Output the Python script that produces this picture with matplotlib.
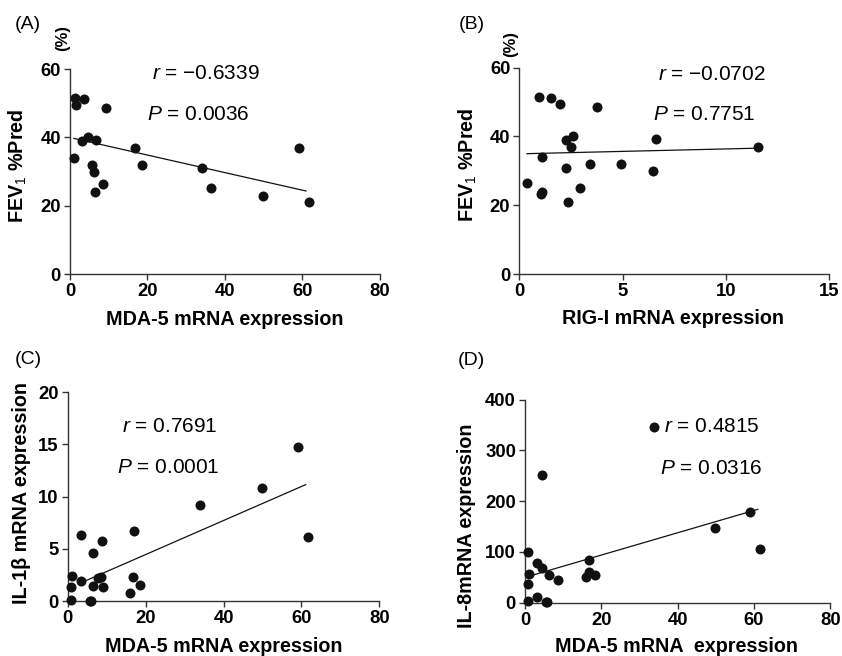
import numpy as np
import matplotlib
matplotlib.use("Agg")
import matplotlib.pyplot as plt
from matplotlib import font_manager

plt.rcParams['font.family'] = ['Liberation Sans', 'DejaVu Sans']
plt.rcParams['mathtext.fontset'] = 'custom'
names = {f.name for f in font_manager.fontManager.ttflist}
NARROW = 'Liberation Sans Narrow' in names
stat_font = 'Liberation Sans Narrow' if NARROW else 'Liberation Sans'
plt.rcParams['mathtext.rm'] = stat_font
plt.rcParams['mathtext.it'] = stat_font + ':italic'
plt.rcParams['mathtext.bf'] = 'Liberation Sans:bold'
stat_size = 17 if NARROW else 15

# ---- Panel A: MDA-5 vs FEV1 %Pred ----
a_x = [1.3, 1.5, 3.5, 9.3, 1.1, 3.2, 4.6, 6.6, 5.6, 6.1, 6.5, 8.6, 16.9, 18.6, 34.1, 36.3, 49.9, 59.0, 61.6]
a_y = [51.4, 49.5, 51.2, 48.7, 34.0, 38.9, 40.2, 39.2, 32.0, 30.0, 23.9, 26.4, 37.0, 32.0, 30.9, 25.1, 22.9, 37.0, 21.0]
a_line_x = [1.0, 60.9]
a_line_y = [39.7, 24.3]

# ---- Panel B: RIG-I vs FEV1 %Pred ----
b_x = [0.95, 1.53, 1.97, 3.76, 2.24, 2.58, 2.48, 6.63, 11.56, 1.11, 2.26, 3.44, 4.94, 6.45, 0.39, 1.11, 1.05, 2.95, 2.35]
b_y = [51.5, 51.3, 49.4, 48.7, 39.1, 40.1, 37.0, 39.3, 36.9, 33.9, 30.9, 31.9, 31.9, 30.0, 26.5, 23.9, 23.2, 25.1, 20.9]
b_line_x = [0.37, 11.56]
b_line_y = [35.0, 36.6]

# ---- Panel C: MDA-5 vs IL-1beta ----
c_x = [1.2, 0.94, 0.86, 3.3, 3.3, 5.6, 5.9, 6.5, 6.5, 7.8, 8.5, 8.7, 9.1, 16.9, 16.7, 16.1, 18.5, 34.0, 49.9, 59.0, 61.7]
c_y = [2.39, 1.34, 0.16, 6.37, 1.9, 0.06, 0.06, 4.6, 1.5, 2.23, 2.3, 5.8, 1.37, 6.72, 2.32, 0.83, 1.6, 9.24, 10.83, 14.7, 6.15]
c_line_x = [3.3, 61.1]
c_line_y = [1.75, 11.15]

# ---- Panel D: MDA-5 vs IL-8 ----
d_x = [0.87, 1.1, 0.79, 0.79, 3.2, 4.4, 4.5, 3.2, 5.6, 5.8, 6.3, 8.6, 16.7, 16.7, 15.9, 18.3, 33.8, 49.7, 58.9, 61.5]
d_y = [99.8, 57, 36.8, 2.6, 78, 68, 252, 11.8, 2, 1, 55, 45, 85, 61, 51, 54, 346, 147, 179, 106]
d_line_x = [2.3, 61.0]
d_line_y = [55, 184]

panels = [
    dict(pos=[0.0831, 0.5823, 0.3682, 0.3125], x=a_x, y=a_y, lx=a_line_x, ly=a_line_y,
         xlim=80, xt=[0, 20, 40, 60, 80], ylim=60, yt=[0, 20, 40, 60],
         xlabel='MDA-5 mRNA expression', xlab_pos=(0.5, -0.22),
         ylabel='FEV$_1$ %Pred', ylab_pos=(-0.168, 0.527), pct_pos=(-0.023, 1.151),
         r='$r$ = \u22120.6339', rpos=(0.265, 0.976), p='$P$ = 0.0036', ppos=(0.248, 0.776),
         letter='(A)', lpos=(0.033, 0.962)),
    dict(pos=[0.6168, 0.5823, 0.3682, 0.3145], x=b_x, y=b_y, lx=b_line_x, ly=b_line_y,
         xlim=15, xt=[0, 5, 10, 15], ylim=60, yt=[0, 20, 40, 60],
         xlabel='RIG-I mRNA expression', xlab_pos=(0.496, -0.218),
         ylabel='FEV$_1$ %Pred', ylab_pos=(-0.166, 0.528), pct_pos=(-0.029, 1.115),
         r='$r$ = \u22120.0702', rpos=(0.447, 0.969), p='$P$ = 0.7751', ppos=(0.431, 0.771),
         letter='(B)', lpos=(0.560, 0.962)),
    dict(pos=[0.0804, 0.0834, 0.3701, 0.3190], x=c_x, y=c_y, lx=c_line_x, ly=c_line_y,
         xlim=80, xt=[0, 20, 40, 60, 80], ylim=20, yt=[0, 5, 10, 15, 20],
         xlabel='MDA-5 mRNA expression', xlab_pos=(0.5, -0.218),
         ylabel='IL-1\u03b2 mRNA expression', ylab_pos=(-0.147, 0.517), pct_pos=None,
         r='$r$ = 0.7691', rpos=(0.173, 0.836), p='$P$ = 0.0001', ppos=(0.159, 0.640),
         letter='(C)', lpos=(0.034, 0.452)),
    dict(pos=[0.6235, 0.0812, 0.3626, 0.3095], x=d_x, y=d_y, lx=d_line_x, ly=d_line_y,
         xlim=80, xt=[0, 20, 40, 60, 80], ylim=400, yt=[0, 100, 200, 300, 400],
         xlabel='MDA-5 mRNA  expression', xlab_pos=(0.497, -0.218),
         ylabel='IL-8mRNA expression', ylab_pos=(-0.193, 0.38), pct_pos=None,
         r='$r$ = 0.4815', rpos=(0.455, 0.869), p='$P$ = 0.0316', ppos=(0.442, 0.663),
         letter='(D)', lpos=(0.560, 0.451)),
]

fig = plt.figure(figsize=(8.42, 6.56), dpi=100)
for pn in panels:
    ax = fig.add_axes(pn['pos'])
    ax.scatter(pn['x'], pn['y'], s=52, color='#111111', zorder=3, clip_on=False, linewidths=0)
    ax.plot(pn['lx'], pn['ly'], color='#111111', lw=0.9, zorder=2)
    ax.set_xlim(0, pn['xlim'])
    ax.set_ylim(0, pn['ylim'])
    ax.set_xticks(pn['xt'])
    ax.set_yticks(pn['yt'])
    for s in ['top', 'right']:
        ax.spines[s].set_visible(False)
    for s in ['left', 'bottom']:
        ax.spines[s].set_linewidth(1.0)
        ax.spines[s].set_color('#333333')
    ax.tick_params(direction='out', length=4, width=1.0, color='#333333', pad=2.5)
    for lab in ax.get_xticklabels() + ax.get_yticklabels():
        lab.set_fontsize(13.3)
        lab.set_fontweight('bold')
    ax.text(pn['xlab_pos'][0], pn['xlab_pos'][1], pn['xlabel'], transform=ax.transAxes,
            ha='center', va='center', fontsize=14.2, fontweight='bold')
    ax.text(pn['ylab_pos'][0], pn['ylab_pos'][1], pn['ylabel'], transform=ax.transAxes,
            ha='center', va='center', fontsize=14.2, fontweight='bold', rotation=90)
    if pn['pct_pos'] is not None:
        ax.text(pn['pct_pos'][0], pn['pct_pos'][1], '(%)', transform=ax.transAxes,
                ha='center', va='center', fontsize=12, fontweight='bold', rotation=90)
    ax.text(pn['rpos'][0], pn['rpos'][1], pn['r'], transform=ax.transAxes,
            ha='left', va='center', fontsize=stat_size, family=stat_font)
    ax.text(pn['ppos'][0], pn['ppos'][1], pn['p'], transform=ax.transAxes,
            ha='left', va='center', fontsize=stat_size, family=stat_font)
    fig.text(pn['lpos'][0], pn['lpos'][1], pn['letter'], ha='center', va='center', fontsize=14)

fig.savefig('out.png', dpi=100)
